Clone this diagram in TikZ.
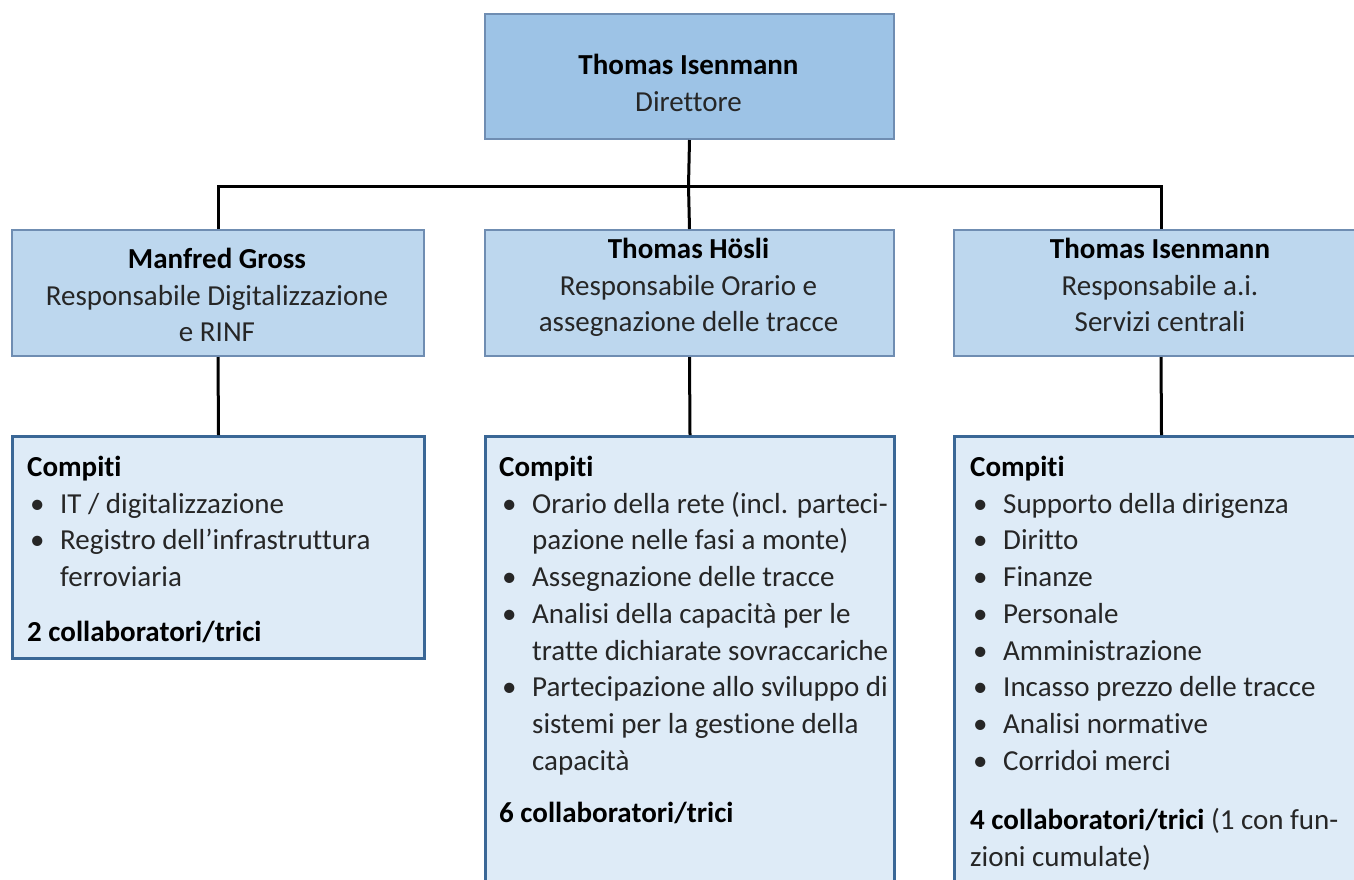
\documentclass[tikz,border=0pt]{standalone}
\usepackage{fontspec}
\setmainfont[Ligatures=NoCommon]{Carlito}
\definecolor{headfill}{HTML}{9DC3E6}
\definecolor{unitfill}{HTML}{BDD7EE}
\definecolor{taskfill}{HTML}{DEEBF7}
\definecolor{lightedge}{HTML}{6F8DB2}
\definecolor{darkedge}{HTML}{3A6796}
\definecolor{txt}{HTML}{262626}
\newcommand\bul{\makebox[33pt][l]{\hspace*{3pt}\textbullet}}
\newcommand\cont{\hspace*{33pt}}

\begin{document}
\begin{tikzpicture}[x=1pt, y=-1pt,
    every node/.style={inner sep=0pt, text=txt, font=\fontsize{29}{36.7}\selectfont},
    headbox/.style={draw=lightedge, line width=2pt, fill=headfill, anchor=north west, minimum height=125pt},
    unitbox/.style={draw=lightedge, line width=2pt, fill=unitfill, anchor=north west, minimum height=126pt},
    taskbox/.style={draw=darkedge, line width=3pt, fill=taskfill, anchor=north west},
    label/.style={align=center, anchor=north},
    tasks/.style={align=left, anchor=north west},
    link/.style={line width=3pt, black}]
    \useasboundingbox (0,0) rectangle (1354,879);
    \clip (0,0) rectangle (1354,879);

    % boxes
    \node[headbox, minimum width=409pt] (dir) at (484,13) {};
    \node[unitbox, minimum width=412pt] (digi) at (11,229) {};
    \node[unitbox, minimum width=409pt] (orario) at (484,229) {};
    \node[unitbox, minimum width=414pt] (servizi) at (953,229) {};
    \node[taskbox, minimum width=412pt, minimum height=222pt] (digitask) at (11,435) {};
    \node[taskbox, minimum width=409pt, minimum height=480pt] (orariotask) at (484,435) {};
    \node[taskbox, minimum width=414pt, minimum height=480pt] (servizitask) at (953,435) {};

    % connectors
    \coordinate (fork) at (688.5,186);
    \draw[link] (dir.south) -- (fork);
    \draw[link] (digi.north) |- (fork) -| (servizi.north);
    \draw[link] (fork) -- (orario.north);
    \draw[link] (digi.south) -- (digitask.north);
    \draw[link] (orario.south) -- (orariotask.north);
    \draw[link] (servizi.south) -- (servizitask.north);

    % texts
    \node[label] (dirtxt) at (688.5,54) {\textbf{\color{black}Thomas Isenmann}\\Direttore};
    \node[label] (digitxt) at (217,248) {\textbf{\color{black}Manfred Gross}\\Responsabile Digitalizzazione\\e RINF};
    \node[label] (orariotxt) at (688.5,238) {\textbf{\color{black}Thomas Hösli}\\Responsabile Orario e\\assegnazione delle tracce};
    \node[label] (servizitxt) at (1160,238) {\textbf{\color{black}Thomas Isenmann}\\Responsabile a.i.\\Servizi centrali};

    \node[tasks] (digilist) at (27,456) {\textbf{\color{black}Compiti}\\
        \bul IT / digitalizzazione\\
        \bul Registro dell’infrastruttura\\
        \cont ferroviaria\\[18pt]
        \textbf{\color{black}2 collaboratori/trici}};
    \node[tasks] (orariolist) at (499,456) {\textbf{\color{black}Compiti}\\
        \bul Orario della rete (incl. parteci-\\
        \cont pazione nelle fasi a monte)\\
        \bul Assegnazione delle tracce\\
        \bul Analisi della capacità per le\\
        \cont tratte dichiarate sovraccariche\\
        \bul Partecipazione allo sviluppo di\\
        \cont sistemi per la gestione della\\
        \cont capacità\\[16pt]
        \textbf{\color{black}6 collaboratori/trici}};
    \node[tasks] (servizilist) at (970,456) {\textbf{\color{black}Compiti}\\
        \bul Supporto della dirigenza\\
        \bul Diritto\\
        \bul Finanze\\
        \bul Personale\\
        \bul Amministrazione\\
        \bul Incasso prezzo delle tracce\\
        \bul Analisi normative\\
        \bul Corridoi merci\\[23pt]
        \textbf{\color{black}4 collaboratori/trici} (1 con fun-\\
        zioni cumulate)};
\end{tikzpicture}
\end{document}
